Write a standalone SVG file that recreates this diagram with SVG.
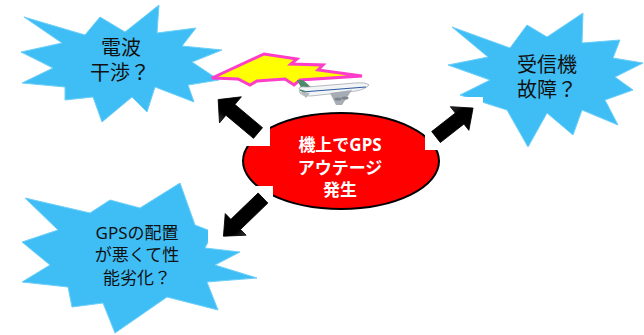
<svg xmlns="http://www.w3.org/2000/svg" width="644" height="335" viewBox="0 0 644 335">
  <defs>
    <style>
      .burst { fill: #3fbef6; stroke: #6ccff8; stroke-width: 1; stroke-linejoin: miter; }
      .qtext { font-family: "Noto Sans", "Noto Sans CJK JP", sans-serif; fill: #111; text-anchor: middle; }
      .core { fill: #ff0000; stroke: #000; stroke-width: 2; }
      .coretext { font-family: "Noto Sans", "Noto Sans CJK JP", sans-serif; font-weight: bold; font-size: 17px; fill: #fff; text-anchor: middle; }
      .patch { fill: #fff; }
      .arrow { fill: url(#arrowShade); stroke: #000; stroke-width: 0.8; stroke-linejoin: miter; }
    </style>
    <linearGradient id="arrowShade" x1="0" y1="0" x2="0" y2="1">
      <stop offset="0" stop-color="#3a3a3a"/>
      <stop offset="0.3" stop-color="#000"/>
      <stop offset="1" stop-color="#000"/>
    </linearGradient>
  </defs>

  <rect width="644" height="335" fill="#fff"/>

  <!-- question bursts -->
  <g id="burst-interference">
    <polygon class="burst" points="24,17 85,35 100,17 125,32 159,5 157,33 196,28 182,46 222,50 192,62 219,80 188,85 194,102 155,87 147,112 132,97 102,122 93,97 65,100 65,87 22,83 53,68 21,52 62,43"/>
    <text class="qtext" font-size="20" x="121" y="55">電波</text>
    <text class="qtext" font-size="20" x="120" y="80">干渉？</text>
  </g>

  <g id="burst-receiver">
    <polygon class="burst" points="452,27 510,48 527,25 547,37 583,13 582,43 620,40 613,58 643,63 615,77 633,90 605,100 618,125 582,110 573,135 547,113 528,147 507,110 460,95 490,80 448,65 488,57"/>
    <text class="qtext" font-size="20" x="547" y="72">受信機</text>
    <text class="qtext" font-size="20" x="547" y="97">故障？</text>
  </g>

  <g id="burst-placement">
    <polygon class="burst" points="25,198 90,213 110,200 140,208 180,183 195,225 213,232 205,248 240,252 215,265 257,278 207,282 218,310 167,297 115,333 103,303 72,307 68,287 22,282 50,265 22,242 58,230"/>
    <text class="qtext" font-size="17" x="137" y="239">GPSの配置</text>
    <text class="qtext" font-size="17" x="137" y="261">が悪くて性</text>
    <text class="qtext" font-size="17" x="137" y="284">能劣化？</text>
  </g>

  <!-- central event -->
  <g id="outage">
    <ellipse class="core" cx="341" cy="161" rx="98" ry="48"/>
    <text class="coretext" x="340" y="151">機上でGPS</text>
    <text class="coretext" x="340" y="174">アウテージ</text>
    <text class="coretext" x="340" y="196">発生</text>
  </g>

  <!-- connectors: block arrows on white backing -->
  <g id="connectors">
    <rect class="patch" x="200" y="90" width="70" height="56"/>
    <rect class="patch" x="425" y="97" width="58" height="53"/>
    <rect class="patch" x="208" y="186" width="65" height="56"/>
    <!-- local shape: tail at origin, tip at +x -->
    <path class="arrow" transform="translate(258,133) rotate(-140)" d="M0,-7 L36,-7 L36,-17 L52,0 L36,17 L36,7 L0,7 Z"/>
    <path class="arrow" transform="translate(436,137) rotate(-38)" d="M0,-7 L30,-7 L30,-15 L47,0 L30,15 L30,7 L0,7 Z"/>
    <path class="arrow" transform="translate(263,198) rotate(136)" d="M0,-7 L38,-7 L38,-15 L55,0 L38,15 L38,7 L0,7 Z"/>
  </g>

  <!-- lightning bolt -->
  <g id="bolt">
    <polygon points="212,78 264,54 297,59 291,64 323,65 318,70 362,76 300,80 294,85 285,79 257,81 250,85 238,79" fill="#ffff00" stroke="#ff3dc8" stroke-width="3" stroke-linejoin="miter"/>
  </g>

  <!-- airliner -->
  <g id="airplane">
    <polygon points="297,80 303,80 312,88 303,91" fill="#4f8a68"/>
    <path d="M299,88 Q301,86 307,87 L355,83 Q366,82 369,85 Q366,89 356,91 L311,96 Q302,96 300,93 Z" fill="#f2f4f6" stroke="#8a9098" stroke-width="0.6"/>
    <path d="M302,92 L366,87" stroke="#2c5aa0" stroke-width="1.2" fill="none"/>
    <path d="M300,90 L306,92" stroke="#4f8a68" stroke-width="1.5" fill="none"/>
    <polygon points="330,93 352,90 342,105 336,105" fill="#a7adb4"/>
    <ellipse cx="338" cy="99" rx="3.5" ry="1.5" fill="#7d848c"/>
    <ellipse cx="345" cy="98" rx="3.5" ry="1.5" fill="#7d848c"/>
    <polygon points="300,92 310,93 306,98" fill="#b5bac0"/>
  </g>
</svg>
